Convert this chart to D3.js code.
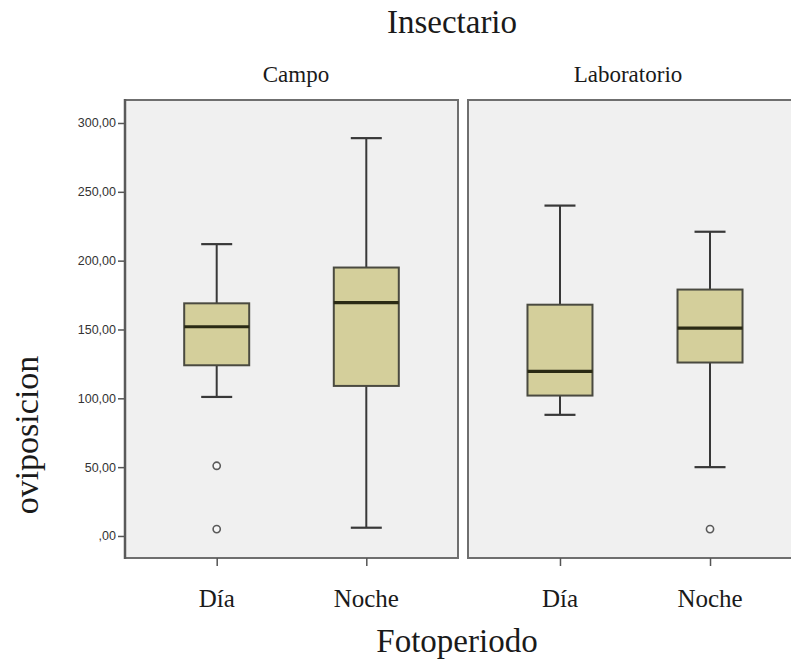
<!DOCTYPE html>
<html>
<head>
<meta charset="utf-8">
<script src="https://cdn.jsdelivr.net/npm/d3@7"></script>
<style>
  html, body { margin: 0; padding: 0; background: #ffffff; }
  svg { display: block; }
  .serif { font-family: "Liberation Serif", "DejaVu Serif", serif; fill: #1a1a1a; }
  .ytick text { font-family: "Liberation Sans", Arial, sans-serif; font-size: 12.5px; fill: #333; }
</style>
</head>
<body>
<svg id="chart" width="791" height="661"></svg>
<script>
// Panels (Insectario) and photoperiod categories
const panels = ["Campo", "Laboratorio"];
const periods = ["Día", "Noche"];

// Box-plot summaries of oviposicion, one entry per panel, in period order
const whiskerLow  = { Campo: [101, 6],    Laboratorio: [88, 50] };
const q1          = { Campo: [124, 109],  Laboratorio: [102, 126] };
const median      = { Campo: [152, 169.5],Laboratorio: [119.5, 151] };
const q3          = { Campo: [169, 195],  Laboratorio: [168, 179] };
const whiskerHigh = { Campo: [212, 289],  Laboratorio: [240, 221] };
const outliers    = { Campo: [[51, 5], []], Laboratorio: [[], [5]] };

const yTicks = [0, 50, 100, 150, 200, 250, 300];
const yTickLabels = [",00", "50,00", "100,00", "150,00", "200,00", "250,00", "300,00"];

const svg = d3.select("#chart");

const plotTop = 100, plotBottom = 558;
const panelX = { Campo: [125, 458], Laboratorio: [468, 802] };

const y = d3.scaleLinear().domain([-16, 316.7]).range([plotBottom, plotTop]);

const boxW = 65, capW = 31;

panels.forEach(p => {
  const [x0, x1] = panelX[p];
  const x = d3.scalePoint().domain(periods).range([x0, x1]).padding(0.613);

  const g = svg.append("g");

  // panel background and frame
  g.append("rect")
    .attr("x", x0).attr("y", plotTop)
    .attr("width", x1 - x0).attr("height", plotBottom - plotTop)
    .attr("fill", "#f0f0f0")
    .attr("stroke", "#6f6f6f").attr("stroke-width", 2);

  // category ticks under the panel
  const xAxis = d3.axisBottom(x).tickSize(8).tickFormat("");
  const xa = g.append("g").attr("transform", `translate(0,${plotBottom})`).call(xAxis);
  xa.select(".domain").remove();
  xa.selectAll("line").attr("stroke", "#555").attr("stroke-width", 1.5);

  // category labels
  g.selectAll("text.cat").data(periods).join("text")
    .attr("class", "serif cat")
    .attr("x", d => x(d)).attr("y", 607)
    .attr("text-anchor", "middle")
    .attr("font-size", 25)
    .text(d => d);

  // panel label
  g.append("text").attr("class", "serif")
    .attr("x", p === "Campo" ? 296 : 628).attr("y", 82)
    .attr("text-anchor", "middle").attr("font-size", 23)
    .text(p);

  periods.forEach((per, i) => {
    const cx = x(per);
    const bx = g.append("g");
    // whisker stems
    bx.append("line").attr("x1", cx).attr("x2", cx)
      .attr("y1", y(whiskerHigh[p][i])).attr("y2", y(q3[p][i]))
      .attr("stroke", "#383838").attr("stroke-width", 2);
    bx.append("line").attr("x1", cx).attr("x2", cx)
      .attr("y1", y(q1[p][i])).attr("y2", y(whiskerLow[p][i]))
      .attr("stroke", "#383838").attr("stroke-width", 2);
    // caps
    [whiskerHigh[p][i], whiskerLow[p][i]].forEach(v => {
      bx.append("line").attr("x1", cx - capW / 2).attr("x2", cx + capW / 2)
        .attr("y1", y(v)).attr("y2", y(v))
        .attr("stroke", "#383838").attr("stroke-width", 2.2);
    });
    // box
    bx.append("rect")
      .attr("x", cx - boxW / 2).attr("y", y(q3[p][i]))
      .attr("width", boxW).attr("height", y(q1[p][i]) - y(q3[p][i]))
      .attr("fill", "#d4cf9b").attr("stroke", "#4a4a40").attr("stroke-width", 2);
    // median
    bx.append("line").attr("x1", cx - boxW / 2).attr("x2", cx + boxW / 2)
      .attr("y1", y(median[p][i])).attr("y2", y(median[p][i]))
      .attr("stroke", "#2a2a14").attr("stroke-width", 3.2);
    // outliers
    bx.selectAll("circle").data(outliers[p][i]).join("circle")
      .attr("cx", cx).attr("cy", d => y(d)).attr("r", 3.6)
      .attr("fill", "#f6f6f6").attr("stroke", "#5a5a5a").attr("stroke-width", 1.6);
  });
});

// vertical axis
const yAxis = d3.axisLeft(y).tickValues(yTicks).tickSize(7).tickPadding(2)
  .tickFormat((d, i) => yTickLabels[i]);
const ya = svg.append("g").attr("class", "ytick")
  .attr("transform", "translate(125,0)").call(yAxis);
ya.select(".domain").remove();
ya.selectAll("line").attr("stroke", "#555").attr("stroke-width", 1.5);
svg.append("line").attr("x1", 125).attr("x2", 125).attr("y1", plotTop - 1).attr("y2", plotBottom + 1)
  .attr("stroke", "#5a5a5a").attr("stroke-width", 2.5);

// titles
svg.append("text").attr("class", "serif")
  .attr("x", 452).attr("y", 33).attr("text-anchor", "middle").attr("font-size", 33)
  .text("Insectario");
svg.append("text").attr("class", "serif")
  .attr("x", 457).attr("y", 652).attr("text-anchor", "middle").attr("font-size", 33)
  .text("Fotoperiodo");
svg.append("text").attr("class", "serif")
  .attr("transform", "translate(38,435) rotate(-90)")
  .attr("text-anchor", "middle").attr("font-size", 34)
  .text("oviposicion");
</script>
</body>
</html>
